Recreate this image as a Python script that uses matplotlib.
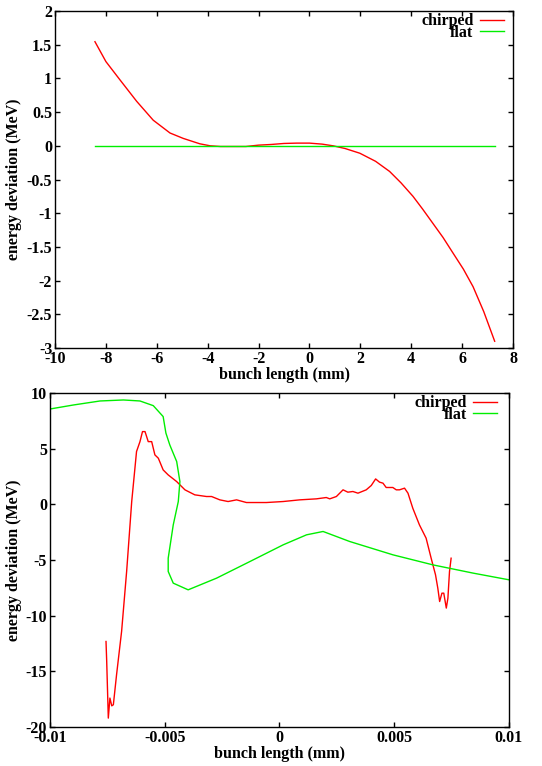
import numpy as np
import matplotlib
matplotlib.use("Agg")
import matplotlib.pyplot as plt

# top panel: bunch length (mm) vs energy deviation (MeV)
top_chirp_x = [-8.43, -8.0, -7.45, -6.79, -6.14, -5.48, -4.96, -4.31, -3.9, -3.5, -3.0,
               -2.5, -2.0, -1.5, -1.0, -0.5, 0.0, 0.5, 0.93, 1.4, 1.98, 2.6, 3.15,
               3.6, 4.07, 4.45, 4.85, 5.25, 5.64, 6.05, 6.43, 6.85, 7.28]
top_chirp_y = [1.545, 1.25, 0.98, 0.66, 0.38, 0.19, 0.11, 0.03, 0.0, -0.01, -0.01,
               -0.01, 0.01, 0.02, 0.035, 0.04, 0.04, 0.025, 0.0, -0.04, -0.11, -0.23, -0.38,
               -0.55, -0.75, -0.94, -1.15, -1.36, -1.59, -1.83, -2.09, -2.46, -2.9]
top_flat_x = [-8.43, 7.28]
top_flat_y = [0.0, 0.0]

# bottom panel
bot_flat_x = [-0.01, -0.00898, -0.00782, -0.0068, -0.00608, -0.0055, -0.00507, -0.00495,
              -0.00478, -0.00448, -0.00434, -0.00441, -0.00463, -0.00485, -0.00485,
              -0.00463, -0.00398, -0.00274, -0.00129, 0.00016, 0.00118, 0.0019,
              0.00306, 0.00495, 0.00669, 0.00844, 0.01]
bot_flat_y = [8.56, 8.92, 9.28, 9.37, 9.28, 8.86, 7.88, 6.4,
              5.33, 3.84, 2.04, 0.25, -1.85, -4.84, -6.03,
              -7.08, -7.68, -6.63, -5.14, -3.64, -2.74, -2.44,
              -3.34, -4.54, -5.44, -6.18, -6.78]
bot_chirp_x = [-0.00756, -0.00753, -0.00746, -0.00739, -0.00731, -0.00724, -0.0071,
               -0.00688, -0.00666, -0.00644, -0.00623, -0.00608, -0.00597, -0.00586,
               -0.00572, -0.00557, -0.00543, -0.00528, -0.00507, -0.00485, -0.00448,
               -0.00412, -0.00369, -0.00318, -0.00296, -0.0026, -0.00224, -0.00187,
               -0.00144, -0.00057, 0.00016, 0.00088, 0.00161, 0.00204, 0.00219,
               0.00248, 0.00277, 0.00298, 0.0032, 0.00342, 0.00378, 0.004, 0.00419,
               0.00436, 0.00451, 0.00465, 0.00494, 0.00509, 0.00523, 0.00545, 0.0056,
               0.00581, 0.0061, 0.00639, 0.00661, 0.0068, 0.0069, 0.00698, 0.00708,
               0.00716, 0.00727, 0.00734, 0.00741, 0.00748]
bot_chirp_y = [-12.32, -14.1, -19.2, -17.4, -18.1, -18.0, -15.3,
               -11.4, -6.0, 0.25, 4.74, 5.63, 6.53, 6.53,
               5.63, 5.63, 4.44, 4.14, 3.09, 2.64, 2.04,
               1.30, 0.85, 0.70, 0.70, 0.40, 0.25, 0.40,
               0.16, 0.16, 0.25, 0.40, 0.49, 0.61, 0.49,
               0.70, 1.30, 1.09, 1.15, 1.00, 1.30, 1.69, 2.28,
               1.99, 1.90, 1.51, 1.51, 1.30, 1.30, 1.45, 1.00,
               -0.35, -1.85, -3.04, -4.84, -6.33, -7.53, -8.73, -7.98,
               -7.98, -9.32, -8.43, -6.03, -4.84]

RED = '#ff0000'
GREEN = '#00ee00'
FS = 11.5

plt.rcParams['font.family'] = ['Liberation Serif', 'DejaVu Serif']
plt.rcParams['font.weight'] = 'bold'
plt.rcParams['font.size'] = FS
plt.rcParams['axes.unicode_minus'] = False


def style_axes(ax, legend_x):
    ax.tick_params(direction='in', top=True, right=True, length=3.5, width=1,
                   labelsize=FS, pad=2)
    for lab in ax.get_xticklabels() + ax.get_yticklabels():
        lab.set_fontweight('bold')
    for sp in ax.spines.values():
        sp.set_linewidth(1)
    ax.set_xlabel('bunch length (mm)', fontweight='bold', fontsize=FS, labelpad=0)
    ax.set_ylabel('energy deviation (MeV)', fontweight='bold', fontsize=FS, labelpad=3)
    ax.legend(loc='upper right', bbox_to_anchor=(legend_x, 1.0), frameon=False,
              markerfirst=False, fontsize=FS, handlelength=1.5, handletextpad=0.4,
              labelspacing=-0.3, borderaxespad=0.0, borderpad=0.15)


fig = plt.figure(figsize=(5.42, 7.66), dpi=100)

ax1 = fig.add_axes([0.1015, 0.5457, 0.845, 0.4399])
ax1.plot(top_chirp_x, top_chirp_y, color=RED, lw=1, label='chirped')
ax1.plot(top_flat_x, top_flat_y, color=GREEN, lw=1, label='flat')
ax1.set_xlim(-10, 8)
ax1.set_ylim(-3, 2)
ax1.set_xticks(np.arange(-10, 9, 2))
ax1.set_yticks(np.arange(-3, 2.01, 0.5))
ax1.set_yticklabels(['-3', '-2.5', '-2', '-1.5', '-1', '-0.5', '0', '0.5', '1', '1.5', '2'])
style_axes(ax1, 0.985)

ax2 = fig.add_axes([0.0923, 0.0509, 0.8467, 0.4361])
ax2.plot(bot_chirp_x, bot_chirp_y, color=RED, lw=1, label='chirped')
ax2.plot(bot_flat_x, bot_flat_y, color=GREEN, lw=1, label='flat')
ax2.set_xlim(-0.01, 0.01)
ax2.set_ylim(-20, 10)
ax2.set_xticks([-0.01, -0.005, 0, 0.005, 0.01])
ax2.set_xticklabels(['-0.01', '-0.005', '0', '0.005', '0.01'])
ax2.set_yticks(np.arange(-20, 11, 5))
style_axes(ax2, 0.98)

fig.savefig('out.png', dpi=100)
